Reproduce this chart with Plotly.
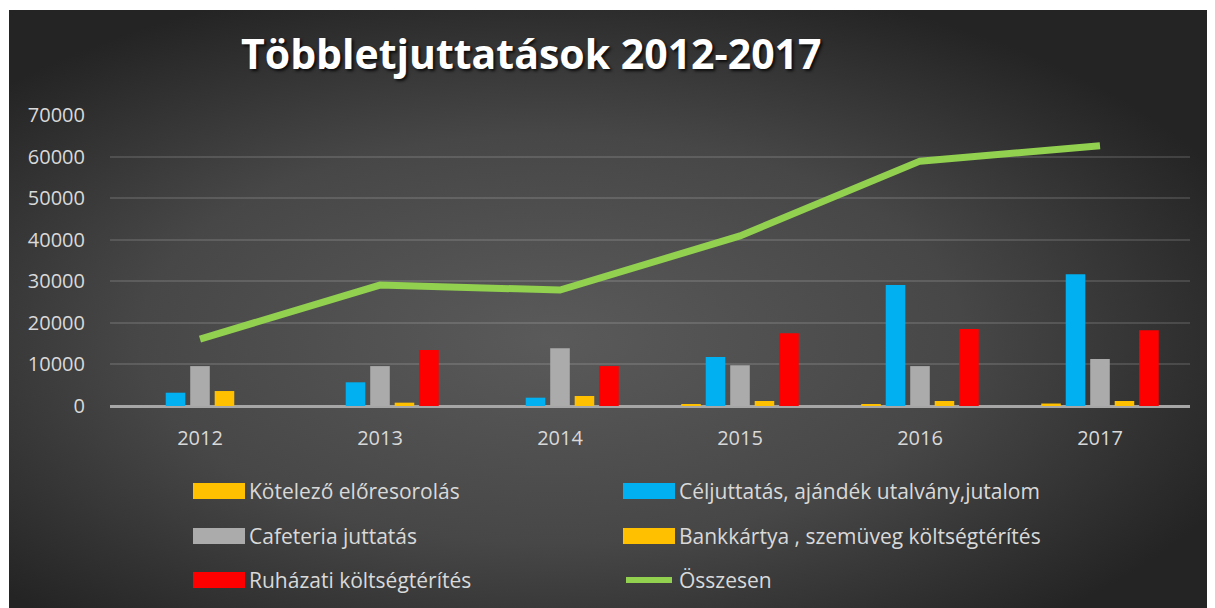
import base64
import plotly.graph_objects as go

years = ["2012", "2013", "2014", "2015", "2016", "2017"]
kotelezo = [0, 0, 0, 400, 400, 600]
celjuttatas = [3200, 5700, 2000, 11800, 29100, 31700]
cafeteria = [9600, 9600, 13900, 9800, 9600, 11300]
bankkartya = [3600, 800, 2400, 1200, 1200, 1200]
ruhazati = [0, 13500, 9600, 17500, 18500, 18200]
osszesen = [16100, 29100, 27900, 40900, 58900, 62600]

names = ["Kötelező előresorolás", "Céljuttatás, ajándék utalvány,jutalom",
         "Cafeteria juttatás", "Bankkártya , szemüveg költségtérítés",
         "Ruházati költségtérítés", "Összesen"]
title_text = "Többletjuttatások 2012-2017"

# page has an 8px body margin; lay out in reference-pixel coordinates
OFF = 8
W, H = 1215 - OFF, 608 - OFF
L = 110 - OFF
T = 115 - OFF
R = W - (1190 - OFF)
B = H - (406 - OFF)
PW, PH = W - L - R, H - T - B


def px(x):
    return (x - OFF - L) / PW


def py(y):
    return (H - B - (y - OFF)) / PH


colors = ["#FFC000", "#00B0F0", "#ABABAB", "#FFC000", "#FF0000"]
bar_series = [kotelezo, celjuttatas, cafeteria, bankkartya, ruhazati]

fig = go.Figure()
for name, vals, col in zip(names[:5], bar_series, colors):
    fig.add_trace(go.Bar(x=years, y=vals, name=name, marker_color=col,
                         marker_line_width=0, showlegend=False))
fig.add_trace(go.Scatter(x=years, y=osszesen, name=names[5], mode="lines",
                         line=dict(color="#92D050", width=7), showlegend=False))

svg = ("<svg xmlns='http://www.w3.org/2000/svg' width='1206' height='598' "
       "viewBox='0 0 1206 598' preserveAspectRatio='none'><defs>"
       "<radialGradient id='g' cx='0.45' cy='0.55' r='0.62'>"
       "<stop offset='0' stop-color='#5a5a5a'/>"
       "<stop offset='0.55' stop-color='#474747'/>"
       "<stop offset='1' stop-color='#242424'/></radialGradient></defs>"
       "<rect width='1206' height='598' fill='url(#g)'/></svg>")
src = "data:image/svg+xml;base64," + base64.b64encode(svg.encode()).decode()

fig.add_layout_image(dict(source=src, xref="paper", yref="paper",
                          x=px(9), y=py(10), sizex=(1215 - 9) / PW, sizey=(608 - 10) / PH,
                          xanchor="left", yanchor="top", sizing="stretch",
                          layer="below"))

# custom legend (2 columns x 3 rows)
shapes = []
annotations = []
leg_font = dict(family="Open Sans", size=21, color="#D9D9D9")
positions = [(193, 491), (623, 491), (193, 536), (623, 536), (193, 580), (623, 580)]
leg_colors = colors + ["#92D050"]
for i, (name, (lx, ly)) in enumerate(zip(names, positions)):
    if i < 5:
        shapes.append(dict(type="rect", xref="paper", yref="paper",
                           x0=px(lx), x1=px(lx + 52), y0=py(ly + 8), y1=py(ly - 8),
                           fillcolor=leg_colors[i], line_width=0))
    else:
        shapes.append(dict(type="line", xref="paper", yref="paper",
                           x0=px(lx + 3), x1=px(lx + 49), y0=py(ly), y1=py(ly),
                           line=dict(color="#92D050", width=6)))
    annotations.append(dict(text=name, xref="paper", yref="paper",
                            x=px(lx + 54), y=py(ly), xanchor="left", yanchor="middle",
                            showarrow=False, font=leg_font))

annotations.append(dict(text=f"<b>{title_text}</b>", xref="paper", yref="paper",
                        x=px(531), y=py(53), xanchor="center", yanchor="middle",
                        showarrow=False,
                        font=dict(family="Open Sans", size=41, color="#FFFFFF",
                                  shadow="2px 2px 3px rgba(0,0,0,0.8)")))

fig.update_layout(
    width=W, height=H,
    margin=dict(l=L, r=R, t=T, b=B),
    paper_bgcolor="#FFFFFF",
    plot_bgcolor="rgba(0,0,0,0)",
    barmode="group", bargap=0.32, bargroupgap=0.2,
    showlegend=False,
    shapes=shapes, annotations=annotations,
    xaxis=dict(showgrid=False, tickfont=dict(family="Open Sans", size=20, color="#D9D9D9"),
               ticks="outside", ticklen=14, tickcolor="rgba(0,0,0,0)",
               showline=False, zeroline=False),
    yaxis=dict(range=[0, 70000], dtick=10000, tickformat="d", showgrid=True,
               gridcolor="rgba(255,255,255,0.13)", gridwidth=1.5,
               zeroline=True, zerolinecolor="#A6A6A6", zerolinewidth=2.5,
               tickfont=dict(family="Open Sans", size=20, color="#D9D9D9"),
               ticks="outside", ticklen=20, tickcolor="rgba(0,0,0,0)",
               showline=False),
)

fig.write_html("out.html")
